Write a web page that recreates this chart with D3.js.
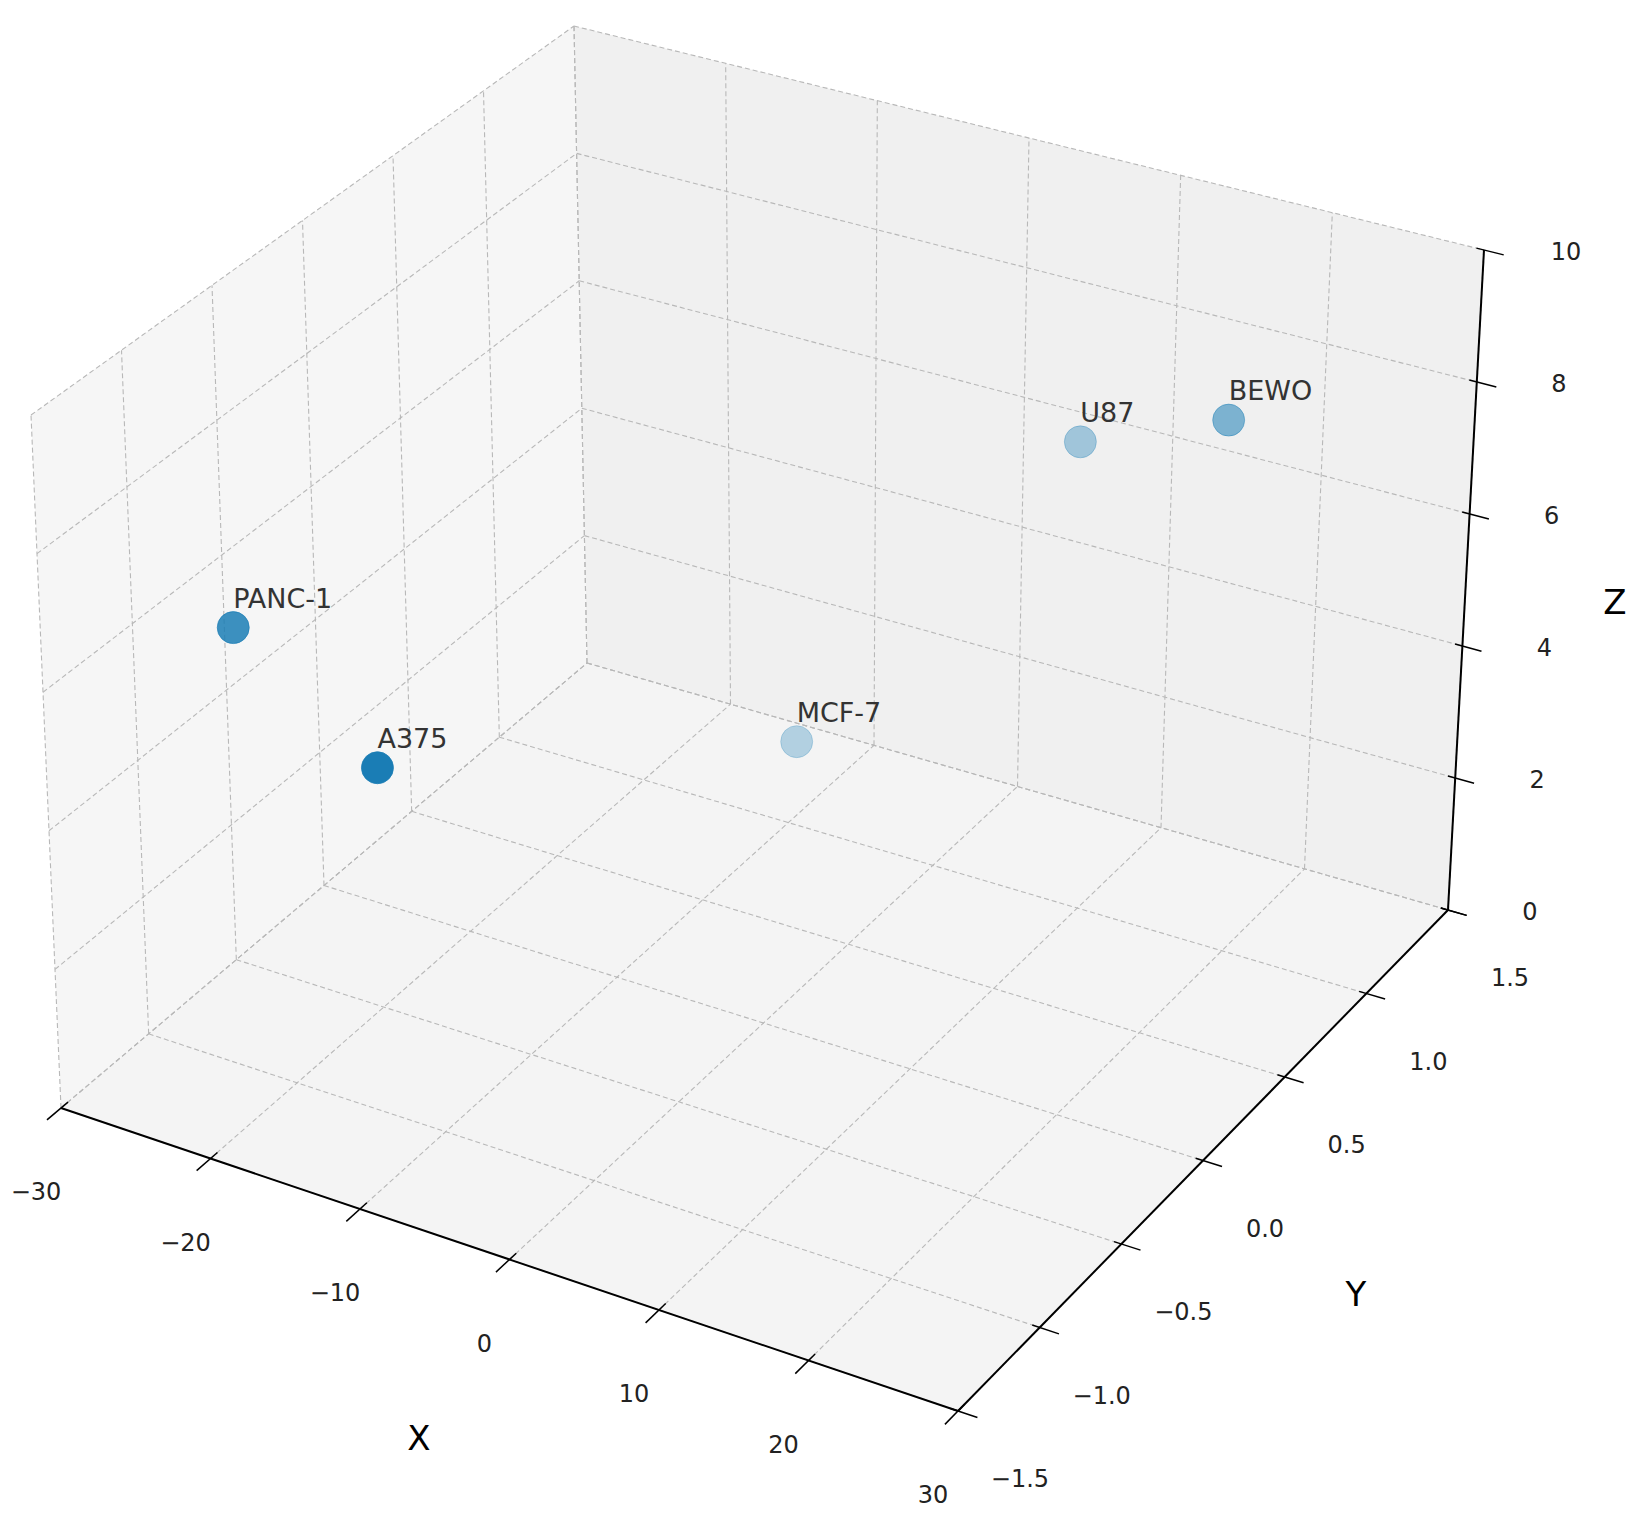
<!DOCTYPE html>
<html><head><meta charset="utf-8">
<script src="https://cdn.jsdelivr.net/npm/d3@7/dist/d3.min.js"></script>
<style>body{margin:0;background:#fff}text{font-family:"DejaVu Sans",sans-serif}</style>
</head><body><svg id="c" width="1636" height="1516"></svg>
<script>
const names = ["PANC-1","A375","MCF-7","U87","BEWO"];
const xs = [-21.0,-11.8,-1.3,13.8,23.4];
const ys = [-1.2,-1.2,0.3,0.6,0.6];
const zs = [6.95,5.55,3.4,8.15,9.05];
const xTicks = [-30,-20,-10,0,10,20,30];
const yTicks = [-1.5,-1.0,-0.5,0.0,0.5,1.0,1.5];
const zTicks = [0,2,4,6,8,10];

const sx = d3.scaleLinear().domain([-30,30]).range([0,1]);
const sy = d3.scaleLinear().domain([-1.5,1.5]).range([0,1]);
const sz = d3.scaleLinear().domain([0,10]).range([0,1]);
const C = {
 "000":[61,1108],"100":[958,1411],"110":[1448,910],"010":[587,663],
 "001":[31,415],"101":[979,691],"111":[1484,250],"011":[574,26]
};
function P(x,y,z){
  const u=sx(x),v=sy(y),w=sz(z);
  let X=0,Y=0;
  for(const a of [0,1])for(const b of [0,1])for(const c of [0,1]){
    const wt=(a?u:1-u)*(b?v:1-v)*(c?w:1-w);
    const p=C[""+a+b+c];X+=wt*p[0];Y+=wt*p[1];}
  return [X,Y];
}
const svg=d3.select("#c");
const poly=(pts,fill)=>svg.append("polygon").attr("points",pts.map(p=>p.join(",")).join(" ")).attr("fill",fill);
poly([P(-30,-1.5,0),P(30,-1.5,0),P(30,1.5,0),P(-30,1.5,0)],"#f4f4f4");
poly([P(-30,1.5,0),P(30,1.5,0),P(30,1.5,10),P(-30,1.5,10)],"#f0f0f0");
poly([P(-30,-1.5,0),P(-30,1.5,0),P(-30,1.5,10),P(-30,-1.5,10)],"#f6f6f6");
const line=(a,b,col,w,dash)=>{const l=svg.append("line").attr("x1",a[0]).attr("y1",a[1]).attr("x2",b[0]).attr("y2",b[1]).attr("stroke",col).attr("stroke-width",w);if(dash)l.attr("stroke-dasharray",dash);return l;};
const g="#b8b8b8",ds="5,3";
xTicks.forEach(x=>{line(P(x,-1.5,0),P(x,1.5,0),g,1.1,ds);line(P(x,1.5,0),P(x,1.5,10),g,1.1,ds);});
yTicks.forEach(y=>{line(P(-30,y,0),P(30,y,0),g,1.1,ds);line(P(-30,y,0),P(-30,y,10),g,1.1,ds);});
zTicks.forEach(z=>{line(P(-30,1.5,z),P(30,1.5,z),g,1.1,ds);line(P(-30,-1.5,z),P(-30,1.5,z),g,1.1,ds);});
line(P(-30,-1.5,0),P(30,-1.5,0),"#000",2);
line(P(30,-1.5,0),P(30,1.5,0),"#000",2);
line(P(30,1.5,0),P(30,1.5,10),"#000",2);
const fs=24;
xTicks.forEach(x=>{line(P(x,-1.5+0.04,0),P(x,-1.5-0.08,0),"#000",1.5);
  const p=P(x,-1.5,0);svg.append("text").attr("x",p[0]-25).attr("y",p[1]+92).attr("text-anchor","middle").attr("font-size",fs).attr("fill","#222").text(d3.format("")(x).replace("-","\u2212"));});
yTicks.forEach(y=>{line(P(30-0.5,y,0),P(30+1.3,y,0),"#000",1.5);
  const p=P(30,y,0);svg.append("text").attr("x",p[0]+62).attr("y",p[1]+76).attr("text-anchor","middle").attr("font-size",fs).attr("fill","#222").text(d3.format(".1f")(y).replace("-","\u2212"));});
zTicks.forEach(z=>{line(P(30-0.5,1.5,z),P(30+1.3,1.5,z),"#000",1.5);
  const p=P(30,1.5,z);svg.append("text").attr("x",p[0]+82).attr("y",p[1]+10).attr("text-anchor","middle").attr("font-size",fs).attr("fill","#222").text(z);});
svg.append("text").attr("x",419).attr("y",1450).attr("text-anchor","middle").attr("font-size",34).text("X");
svg.append("text").attr("x",1356).attr("y",1306).attr("text-anchor","middle").attr("font-size",34).text("Y");
svg.append("text").attr("x",1615).attr("y",614).attr("text-anchor","middle").attr("font-size",34).text("Z");
const depth=names.map((_,i)=>0.5*sx(xs[i])-0.87*sy(ys[i]));
const op=d3.scaleLinear().domain(d3.extent(depth)).range([0.3,1]);
const pts=names.map((n,i)=>({n,p:P(xs[i],ys[i],zs[i]),d:depth[i]})).sort((a,b)=>a.d-b.d);
pts.forEach(d=>{
  svg.append("circle").attr("cx",d.p[0]).attr("cy",d.p[1]).attr("r",16).attr("fill","#1a7db5").attr("fill-opacity",op(d.d)).attr("stroke","#1a7db5").attr("stroke-opacity",op(d.d)*0.8);
  svg.append("text").attr("x",d.p[0]).attr("y",d.p[1]-20).attr("font-size",27).attr("fill","#333").text(d.n);
});
</script></body></html>
